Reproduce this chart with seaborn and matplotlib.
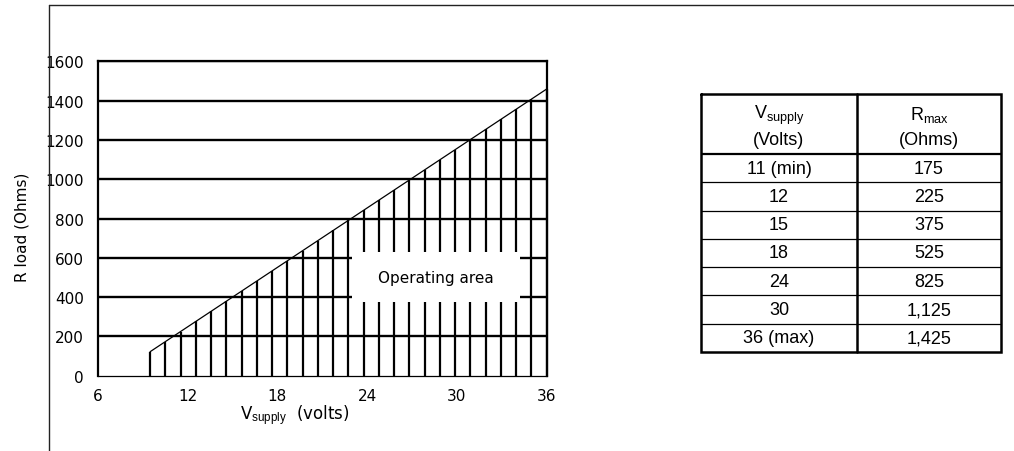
import numpy as np
import pandas as pd
import matplotlib
matplotlib.use("Agg")
import matplotlib.pyplot as plt
from matplotlib.lines import Line2D
from matplotlib.patches import Rectangle
import seaborn as sns

# ---------------- data ----------------
line_v = [9.5, 36.0]          # V supply (volts) end points of the limit line
line_r = [122.0, 1459.0]      # R load (Ohms) at those points

hatch_v = [9.5, 10.52, 11.54, 12.56, 13.58, 14.6, 15.62, 16.63, 17.65, 18.67,
           19.69, 20.71, 21.73, 22.75, 23.77, 24.79, 25.81, 26.83, 27.85, 28.87,
           29.88, 30.9, 31.92, 32.94, 33.96, 34.98, 36.0]

x_ticks = [6, 12, 18, 24, 30, 36]
y_ticks = [0, 200, 400, 600, 800, 1000, 1200, 1400, 1600]

label_box_v = [23.0, 34.2]
label_box_r = [375, 629]
label_pos = (28.6, 502)
label_text = "Operating area"

table_head_v = ["V$_{\\mathrm{supply}}$", "(Volts)"]
table_head_r = ["R$_{\\mathrm{max}}$", "(Ohms)"]
table_v = ["11 (min)", "12", "15", "18", "24", "30", "36 (max)"]
table_r = ["175", "225", "375", "525", "825", "1,125", "1,425"]

# ---------------- style ----------------
sns.set_theme(style="white")
plt.rcParams['font.family'] = ['DejaVu Sans']
plt.rcParams['mathtext.fontset'] = 'custom'
plt.rcParams['mathtext.rm'] = 'Liberation Sans'
plt.rcParams['mathtext.it'] = 'Liberation Sans:italic'

W, H = 1014, 452
fig = plt.figure(figsize=(W / 100, H / 100), dpi=100)
fig.patch.set_facecolor("white")

def fx(px):
    return px / W

def fy(py):
    return 1 - py / H

# main chart axes
x0, x1 = 97.7, 546.7
y0, y1 = 376.7, 62.3
ax = fig.add_axes([fx(x0), fy(y0), fx(x1) - fx(x0), fy(y1) - fy(y0)])
ax.set_facecolor("white")
ax.set_xlim(6, 36)
ax.set_ylim(0, 1600)

# horizontal grid lines
ax.set_yticks(y_ticks)
ax.set_xticks(x_ticks)
ax.yaxis.grid(True, color="black", lw=1.7)
ax.xaxis.grid(False)
ax.set_axisbelow(True)
ax.get_ygridlines()[0].set_visible(False)

# operating-area hatch (vertical lines under the limit line)
hatch_top = np.interp(hatch_v, line_v, line_r)
ax.vlines(hatch_v, 0, hatch_top, color="black", lw=1.6, zorder=2, clip_on=False)

# limit line
df = pd.DataFrame({"V": line_v, "R": line_r})
sns.lineplot(data=df, x="V", y="R", ax=ax, color="black", lw=0.9, zorder=3)

# label box
ax.add_patch(Rectangle((label_box_v[0], label_box_r[0]),
                       label_box_v[1] - label_box_v[0],
                       label_box_r[1] - label_box_r[0],
                       facecolor="white", edgecolor="none", zorder=4))
ax.text(label_pos[0], label_pos[1], label_text, ha="center", va="center",
        fontsize=11, color="black", zorder=5)

# spines
for side in ["left", "top", "right"]:
    ax.spines[side].set_linewidth(1.6)
    ax.spines[side].set_color("black")
ax.spines["bottom"].set_linewidth(0.9)
ax.spines["bottom"].set_color("black")

ax.tick_params(axis="both", which="both", direction="out", length=3.8, width=1.6,
               color="black", labelsize=11, labelcolor="black")
ax.tick_params(axis="x", pad=5)
ax.tick_params(axis="y", pad=6)

ax.set_xlabel("V$_{\\mathrm{supply}}$  (volts)", fontsize=12, color="black")
ax.xaxis.set_label_coords(0.44, -0.085)
ax.xaxis.label.set_va("top")
ax.set_ylabel("R load (Ohms)", fontsize=11, color="black")
ax.yaxis.set_label_coords(-0.152, 0.476)

# ---------------- table ----------------
tl, tr, tt, tb = 701, 1001, 95, 353
tax = fig.add_axes([fx(tl), fy(tb), fx(tr) - fx(tl), fy(tt) - fy(tb)])
tax.set_xlim(tl, tr)
tax.set_ylim(tb, tt)
tax.axis("off")
col_div = 857
head_bottom = 155
row_h = (tb - head_bottom) / len(table_v)

# borders
tax.plot([tl, tr, tr, tl, tl], [tt, tt, tb, tb, tt], color="black", lw=1.8,
         clip_on=False, solid_joinstyle="miter")
tax.plot([col_div, col_div], [tt, tb], color="black", lw=1.8, clip_on=False)
tax.plot([tl, tr], [head_bottom, head_bottom], color="black", lw=1.6)
for i in range(1, len(table_v)):
    yy = head_bottom + i * row_h
    tax.plot([tl, tr], [yy, yy], color="black", lw=0.9)

cx_v = (tl + col_div) / 2
cx_r = (col_div + tr) / 2
tfont = dict(family=["Liberation Sans"], fontsize=13, color="black",
             ha="center", va="center")
tax.text(cx_v, 115, table_head_v[0], **tfont)
tax.text(cx_v, 141, table_head_v[1], **tfont)
tax.text(cx_r, 115, table_head_r[0], **tfont)
tax.text(cx_r, 141, table_head_r[1], **tfont)
for i, (a, b) in enumerate(zip(table_v, table_r)):
    yy = head_bottom + (i + 0.5) * row_h
    tax.text(cx_v, yy, a, **tfont)
    tax.text(cx_r, yy, b, **tfont)

# ---------------- outer frame ----------------
fig.add_artist(Line2D([fx(49), fx(49)], [0, fy(5.7)], transform=fig.transFigure,
                      color="#222222", lw=1.0, zorder=10))
fig.add_artist(Line2D([fx(49), 1], [fy(5.7), fy(5.7)], transform=fig.transFigure,
                      color="#222222", lw=1.0, zorder=10))

fig.savefig("out.png", dpi=100, facecolor="white")
